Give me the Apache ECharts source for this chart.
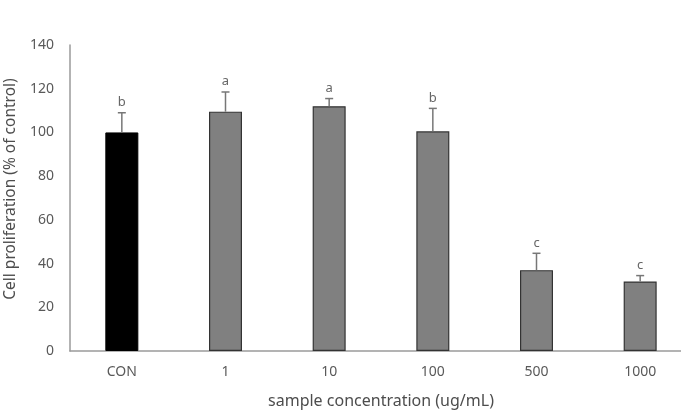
<!DOCTYPE html>
<html>
<head>
<meta charset="utf-8">
<script src="https://cdn.jsdelivr.net/npm/echarts@6/dist/echarts.min.js"></script>
<style>
  html, body { margin: 0; padding: 0; background: #fff; }
  #chart { width: 681px; height: 411px; }
</style>
</head>
<body>
<div id="chart"></div>
<script>
  // 데이터
  var categories = ['CON', '1', '10', '100', '500', '1000'];
  var means = [100, 109.5, 112, 100.5, 37, 31.8];
  var errors = [9, 9, 3.5, 10.5, 7.7, 2.7];
  var letters = ['b', 'a', 'a', 'b', 'c', 'c'];

  var chart = echarts.init(document.getElementById('chart'));

  var barData = means.map(function (v, i) {
    return {
      value: v,
      itemStyle: i === 0
        ? { color: '#000000', borderColor: '#000000', borderWidth: 1 }
        : { color: '#808080', borderColor: '#333333', borderWidth: 1.2 }
    };
  });

  var errData = means.map(function (v, i) {
    return [i, v, v + errors[i], letters[i]];
  });

  var option = {
    animation: false,
    backgroundColor: '#ffffff',
    grid: { left: 70, right: -11, top: 45, bottom: 60, outerBoundsMode: 'none' },
    xAxis: {
      type: 'category',
      data: categories,
      name: 'sample concentration (ug/mL)',
      nameLocation: 'middle',
      nameGap: 42,
      nameTextStyle: { color: '#4d4d4d', fontSize: 16, fontFamily: 'Noto Sans' },
      axisLine: { lineStyle: { color: '#9a9a9a', width: 1.5 } },
      axisTick: { show: false },
      axisLabel: { color: '#595959', fontSize: 14, margin: 14, fontFamily: 'Noto Sans' }
    },
    yAxis: {
      type: 'value',
      min: 0,
      max: 140,
      interval: 20,
      name: 'Cell proliferation (% of control)',
      nameLocation: 'middle',
      nameGap: 45,
      nameTextStyle: { color: '#4d4d4d', fontSize: 15.5, fontFamily: 'Noto Sans', padding: [0, 0, 0, 18] },
      axisLine: { show: true, lineStyle: { color: '#9a9a9a', width: 1.5 } },
      axisTick: { show: false },
      splitLine: { show: false },
      axisLabel: { color: '#595959', fontSize: 14, margin: 16, fontFamily: 'Noto Sans' }
    },
    series: [
      {
        type: 'bar',
        data: barData,
        barWidth: 33
      },
      {
        type: 'custom',
        data: errData,
        z: 5,
        renderItem: function (params, api) {
          var base = api.coord([api.value(0), api.value(1)]);
          var top = api.coord([api.value(0), api.value(2)]);
          var cap = 4;
          return {
            type: 'group',
            children: [
              {
                type: 'line',
                shape: { x1: base[0], y1: base[1], x2: top[0], y2: top[1] },
                style: { stroke: '#777777', lineWidth: 1.5 }
              },
              {
                type: 'line',
                shape: { x1: top[0] - cap, y1: top[1], x2: top[0] + cap, y2: top[1] },
                style: { stroke: '#777777', lineWidth: 1.5 }
              },
              {
                type: 'text',
                x: top[0],
                y: top[1] - 4,
                style: {
                  text: api.value(3),
                  fill: '#666666',
                  fontSize: 13,
                  fontFamily: 'Noto Sans',
                  align: 'center',
                  verticalAlign: 'bottom'
                }
              }
            ]
          };
        }
      }
    ]
  };

  chart.setOption(option);
</script>
</body>
</html>
